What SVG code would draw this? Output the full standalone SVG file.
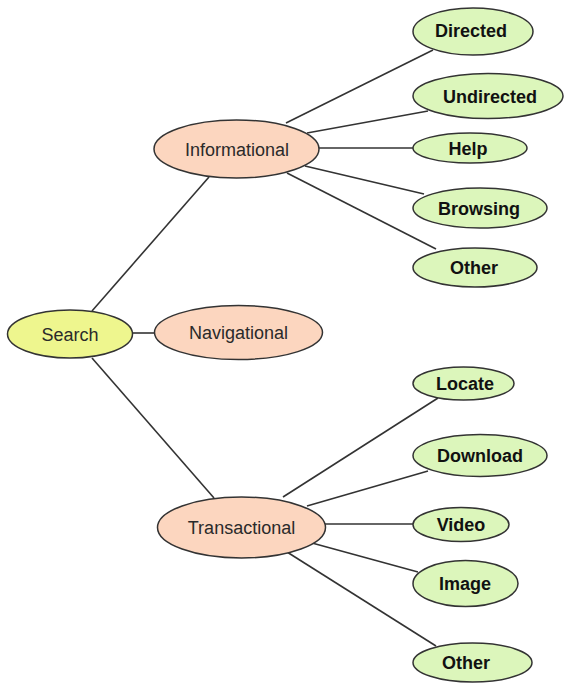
<svg xmlns="http://www.w3.org/2000/svg" width="565" height="684" viewBox="0 0 565 684">
<style>
.e{stroke:#333;stroke-width:1.5}
.root{fill:#eef68e}
.mid{fill:#fcd6bf}
.leaf{fill:#dcf6bb}
.t{font-family:"Liberation Sans",Arial,sans-serif;font-size:18px;text-anchor:middle;fill:#2a2a2a}
.b{font-weight:bold;fill:#111}
.c line{stroke:#333;stroke-width:1.6}
</style>
<rect width="565" height="684" fill="#fff"/>
<g class="c" id="connectors">
<line x1="92" y1="311" x2="209" y2="177"/>
<line x1="132" y1="333" x2="155" y2="333"/>
<line x1="92" y1="358" x2="214" y2="498"/>
<line x1="286" y1="123" x2="433" y2="50"/>
<line x1="307" y1="133" x2="428" y2="111"/>
<line x1="318" y1="148" x2="413" y2="148"/>
<line x1="305" y1="166" x2="424" y2="194"/>
<line x1="287" y1="173" x2="436" y2="249"/>
<line x1="283" y1="497" x2="438" y2="398"/>
<line x1="307" y1="506" x2="428" y2="471"/>
<line x1="324" y1="524" x2="413" y2="524"/>
<line x1="312" y1="543" x2="418" y2="572"/>
<line x1="287" y1="552" x2="436" y2="646"/>
</g>
<g id="search"><ellipse class="e root" cx="70" cy="334" rx="62.5" ry="24"/><text class="t" x="70" y="341">Search</text></g>
<g id="informational"><ellipse class="e mid" cx="236.5" cy="149" rx="82.5" ry="29"/><text class="t" x="237" y="155.5">Informational</text></g>
<g id="navigational"><ellipse class="e mid" cx="238.5" cy="332.5" rx="84" ry="27"/><text class="t" x="238.5" y="339">Navigational</text></g>
<g id="transactional"><ellipse class="e mid" cx="241.5" cy="527.5" rx="84" ry="30.5"/><text class="t" x="241.5" y="534">Transactional</text></g>
<g id="directed"><ellipse class="e leaf" cx="473" cy="31.5" rx="60" ry="23.5"/><text class="t b" x="471" y="37">Directed</text></g>
<g id="undirected"><ellipse class="e leaf" cx="488" cy="96" rx="75" ry="22.5"/><text class="t b" x="490" y="102.5">Undirected</text></g>
<g id="help"><ellipse class="e leaf" cx="470" cy="148" rx="57" ry="15"/><text class="t b" x="468" y="154.5">Help</text></g>
<g id="browsing"><ellipse class="e leaf" cx="480" cy="208" rx="67" ry="20"/><text class="t b" x="479" y="214.5">Browsing</text></g>
<g id="other1"><ellipse class="e leaf" cx="475" cy="267.5" rx="62" ry="19.5"/><text class="t b" x="474" y="274">Other</text></g>
<g id="locate"><ellipse class="e leaf" cx="463.5" cy="383.5" rx="50.5" ry="16.5"/><text class="t b" x="465" y="390">Locate</text></g>
<g id="download"><ellipse class="e leaf" cx="480" cy="455.5" rx="67" ry="21"/><text class="t b" x="480" y="462">Download</text></g>
<g id="video"><ellipse class="e leaf" cx="461" cy="524.5" rx="48" ry="17"/><text class="t b" x="461" y="531">Video</text></g>
<g id="image"><ellipse class="e leaf" cx="465.5" cy="583.5" rx="52.5" ry="23"/><text class="t b" x="465" y="590">Image</text></g>
<g id="other2"><ellipse class="e leaf" cx="472.5" cy="662.5" rx="59.5" ry="19.5"/><text class="t b" x="466" y="669">Other</text></g>
</svg>
